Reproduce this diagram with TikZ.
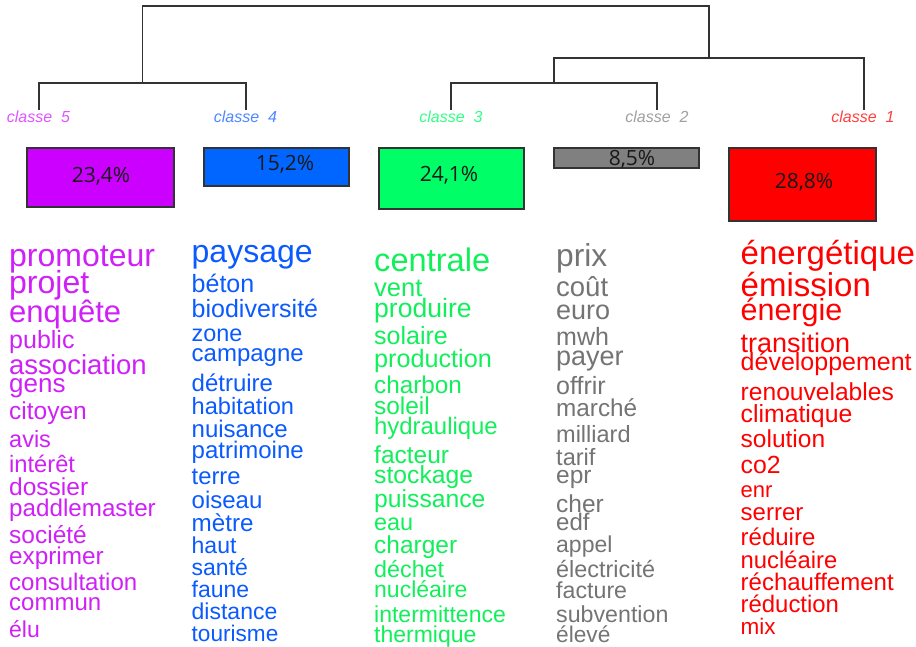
\documentclass[tikz,border=0pt]{standalone}
\usepackage{fontspec}
\setmainfont{Liberation Sans}
\newfontfamily\pctfont{Open Sans}
\definecolor{dgray}{HTML}{333333}
\definecolor{boxV}{HTML}{CC00FF}
\definecolor{boxB}{HTML}{0066FF}
\definecolor{boxG}{HTML}{00FF66}
\definecolor{boxK}{HTML}{808080}
\definecolor{boxR}{HTML}{FF0000}
\definecolor{txtV}{HTML}{D020F8}
\definecolor{txtB}{HTML}{0A5AFF}
\definecolor{txtG}{HTML}{11F05A}
\definecolor{txtK}{HTML}{747474}
\definecolor{txtR}{HTML}{FF0000}
\definecolor{labV}{HTML}{E055FF}
\definecolor{labB}{HTML}{4D88FF}
\definecolor{labG}{HTML}{33FF88}
\definecolor{labK}{HTML}{A0A0A0}
\definecolor{labR}{HTML}{FF4040}
\newcommand{\fsz}[1]{\fontsize{#1}{#1}\selectfont}
\begin{document}
\begin{tikzpicture}[x=1pt,y=1pt,
  dendro/.style={draw=dgray, line width=1.4pt},
  classlab/.style={inner sep=0pt, font=\fsz{16}\itshape},
  pctbox/.style={draw=dgray, line width=1.4pt, minimum width=#1, inner sep=0pt},
  pcttxt/.style={inner sep=0pt, font=\pctfont\fsz{21}, text=black!90},
  wordV/.style={anchor=base west, inner sep=0pt, text=txtV},
  wordB/.style={anchor=base west, inner sep=0pt, text=txtB},
  wordG/.style={anchor=base west, inner sep=0pt, text=txtG},
  wordK/.style={anchor=base west, inner sep=0pt, text=txtK},
  wordR/.style={anchor=base west, inner sep=0pt, text=txtR}]
\useasboundingbox (0,0) rectangle (916,-647);
\fill[white] (0,0) rectangle (916,-647);

% class labels
\node[classlab, text=labV] (c5) at (38.5,-117) {classe\ \ 5};
\node[classlab, text=labB] (c4) at (245.5,-117) {classe\ \ 4};
\node[classlab, text=labG] (c3) at (451,-117) {classe\ \ 3};
\node[classlab, text=labK] (c2) at (657,-117) {classe\ \ 2};
\node[classlab, text=labR] (c1) at (863,-117) {classe\ \ 1};

% dendrogram
\coordinate (t5) at (39,-110);
\coordinate (t4) at (246,-110);
\coordinate (t3) at (451,-110);
\coordinate (t2) at (657,-110);
\coordinate (t1) at (864,-110);
\coordinate (m54) at (142.5,-83);
\coordinate (m32) at (554,-83);
\coordinate (m321) at (709,-58);
\coordinate (root) at (425,-6);
\draw[dendro] (t5) |- (m54) -| (t4);
\draw[dendro] (t3) |- (m32) -| (t2);
\draw[dendro] (m32) |- (m321) -| (t1);
\draw[dendro] (m54) |- (root) -| (m321);

% boxes
\node[pctbox=147pt, minimum height=59pt, fill=boxV] (b5) at (100.5,-177.5) {};
\node[pctbox=145pt, minimum height=38pt, fill=boxB] (b4) at (276.5,-167) {};
\node[pctbox=145pt, minimum height=61pt, fill=boxG] (b3) at (451.5,-178.5) {};
\node[pctbox=145pt, minimum height=20pt, fill=boxK] (b2) at (626.5,-158) {};
\node[pctbox=147pt, minimum height=73pt, fill=boxR] (b1) at (802.5,-184.5) {};
\node[pcttxt] (p5) at (101,-176) {23,4\%};
\node[pcttxt] (p4) at (285,-164) {15,2\%};
\node[pcttxt] (p3) at (449,-175) {24,1\%};
\node[pcttxt] (p2) at (632,-159.5) {8,5\%};
\node[pcttxt] (p1) at (804,-182) {28,8\%};

% classe 5 words
\node[wordV] (v1) at (9,-266) {\fsz{32}promoteur};
\node[wordV] (v2) at (9,-294) {\fsz{32}projet};
\node[wordV] (v3) at (9,-322) {\fsz{31}enquête};
\node[wordV] (v4) at (9,-348) {\fsz{25}public};
\node[wordV] (v5) at (9,-374) {\fsz{27.5}association};
\node[wordV] (v6) at (9,-392) {\fsz{26}gens};
\node[wordV] (v7) at (9,-419) {\fsz{24.5}citoyen};
\node[wordV] (v8) at (9,-447) {\fsz{23.5}avis};
\node[wordV] (v9) at (9,-472) {\fsz{23.7}intérêt};
\node[wordV] (v10) at (9,-495) {\fsz{24.5}dossier};
\node[wordV] (v11) at (9,-516) {\fsz{24.2}paddlemaster};
\node[wordV] (v12) at (9,-543) {\fsz{24.5}société};
\node[wordV] (v13) at (9,-564) {\fsz{24.3}exprimer};
\node[wordV] (v14) at (9,-590) {\fsz{24}consultation};
\node[wordV] (v15) at (9,-610) {\fsz{24}commun};
\node[wordV] (v16) at (9,-637) {\fsz{23}élu};

% classe 4 words
\node[wordB] (u1) at (191.5,-263) {\fsz{32}paysage};
\node[wordB] (u2) at (191.5,-293) {\fsz{25}béton};
\node[wordB] (u3) at (191.5,-317) {\fsz{25}biodiversité};
\node[wordB] (u4) at (191.5,-341) {\fsz{23.4}zone};
\node[wordB] (u5) at (191.5,-361) {\fsz{24}campagne};
\node[wordB] (u6) at (191.5,-391) {\fsz{24}détruire};
\node[wordB] (u7) at (191.5,-414) {\fsz{23.6}habitation};
\node[wordB] (u8) at (191.5,-437) {\fsz{24}nuisance};
\node[wordB] (u9) at (191.5,-458) {\fsz{24}patrimoine};
\node[wordB] (u10) at (191.5,-484) {\fsz{23.8}terre};
\node[wordB] (u11) at (191.5,-508) {\fsz{24}oiseau};
\node[wordB] (u12) at (191.5,-531) {\fsz{24.2}mètre};
\node[wordB] (u13) at (191.5,-553) {\fsz{23}haut};
\node[wordB] (u14) at (191.5,-575) {\fsz{23}santé};
\node[wordB] (u15) at (191.5,-597) {\fsz{23}faune};
\node[wordB] (u16) at (191.5,-619) {\fsz{23}distance};
\node[wordB] (u17) at (191.5,-641) {\fsz{22.6}tourisme};

% classe 3 words
\node[wordG] (g1) at (374,-272) {\fsz{32.6}centrale};
\node[wordG] (g2) at (374,-296) {\fsz{25.5}vent};
\node[wordG] (g3) at (374,-317) {\fsz{26.6}produire};
\node[wordG] (g4) at (374,-344) {\fsz{25}solaire};
\node[wordG] (g5) at (374,-367) {\fsz{25.2}production};
\node[wordG] (g6) at (374,-393) {\fsz{24.3}charbon};
\node[wordG] (g7) at (374,-414) {\fsz{24.4}soleil};
\node[wordG] (g8) at (374,-434) {\fsz{23.9}hydraulique};
\node[wordG] (g9) at (374,-463) {\fsz{24.5}facteur};
\node[wordG] (g10) at (374,-483) {\fsz{24.7}stockage};
\node[wordG] (g11) at (374,-507) {\fsz{24.7}puissance};
\node[wordG] (g12) at (374,-530) {\fsz{23.4}eau};
\node[wordG] (g13) at (374,-553) {\fsz{24.5}charger};
\node[wordG] (g14) at (374,-577) {\fsz{23.3}déchet};
\node[wordG] (g15) at (374,-597) {\fsz{23}nucléaire};
\node[wordG] (g16) at (374,-622) {\fsz{23}intermittence};
\node[wordG] (g17) at (374,-642) {\fsz{23}thermique};

% classe 2 words
\node[wordK] (k1) at (556,-267) {\fsz{31.7}prix};
\node[wordK] (k2) at (556,-296) {\fsz{27.5}coût};
\node[wordK] (k3) at (556,-319) {\fsz{27}euro};
\node[wordK] (k4) at (556,-345) {\fsz{25}mwh};
\node[wordK] (k5) at (556,-365) {\fsz{27}payer};
\node[wordK] (k6) at (556,-394) {\fsz{25}offrir};
\node[wordK] (k7) at (556,-416) {\fsz{24.3}marché};
\node[wordK] (k8) at (556,-442) {\fsz{23.5}milliard};
\node[wordK] (k9) at (556,-465) {\fsz{23.6}tarif};
\node[wordK] (k10) at (556,-483) {\fsz{24.5}epr};
\node[wordK] (k11) at (556,-512) {\fsz{24.5}cher};
\node[wordK] (k12) at (556,-530) {\fsz{24}edf};
\node[wordK] (k13) at (556,-552) {\fsz{23}appel};
\node[wordK] (k14) at (556,-577) {\fsz{23.4}électricité};
\node[wordK] (k15) at (556,-598) {\fsz{23.2}facture};
\node[wordK] (k16) at (556,-622) {\fsz{23.2}subvention};
\node[wordK] (k17) at (556,-642) {\fsz{22.7}élevé};

% classe 1 words
\node[wordR] (r1) at (740.5,-265) {\fsz{33}énergétique};
\node[wordR] (r2) at (740.5,-297) {\fsz{33}émission};
\node[wordR] (r3) at (740.5,-320) {\fsz{30.5}énergie};
\node[wordR] (r4) at (740.5,-352) {\fsz{27}transition};
\node[wordR] (r5) at (740.5,-370) {\fsz{25}développement};
\node[wordR] (r6) at (740.5,-400) {\fsz{24.6}renouvelables};
\node[wordR] (r7) at (740.5,-422) {\fsz{24.8}climatique};
\node[wordR] (r8) at (740.5,-447) {\fsz{24.5}solution};
\node[wordR] (r9) at (740.5,-473) {\fsz{24.8}co2};
\node[wordR] (r10) at (740.5,-497) {\fsz{22}enr};
\node[wordR] (r11) at (740.5,-520) {\fsz{24}serrer};
\node[wordR] (r12) at (740.5,-545) {\fsz{24}réduire};
\node[wordR] (r13) at (740.5,-568) {\fsz{23.8}nucléaire};
\node[wordR] (r14) at (740.5,-590) {\fsz{24}réchauffement};
\node[wordR] (r15) at (740.5,-612) {\fsz{23.9}réduction};
\node[wordR] (r16) at (740.5,-634) {\fsz{22.5}mix};
\end{tikzpicture}
\end{document}
